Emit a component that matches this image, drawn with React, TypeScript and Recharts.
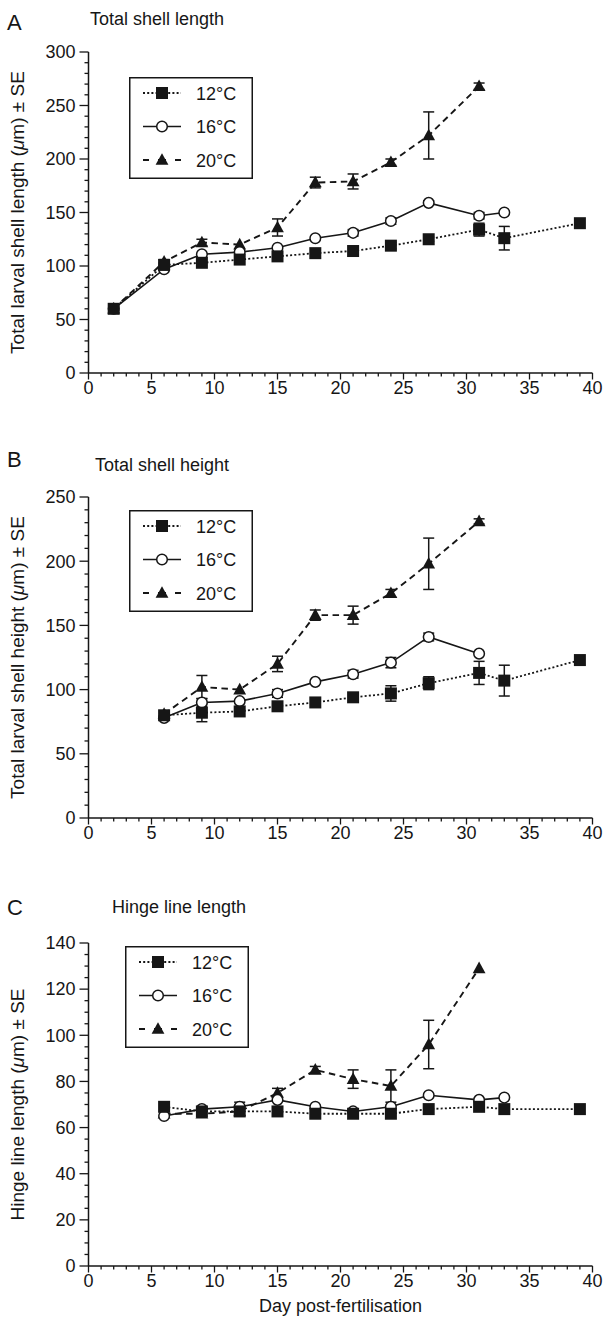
import React from 'react';
import { LineChart, Line, XAxis, YAxis, ErrorBar, Legend } from 'recharts';

const FONT = '"Liberation Sans", Arial, Helvetica, sans-serif';
const INK = '#161616';

// ---------- categories / tick labels ----------
const seriesNames = ['12°C', '16°C', '20°C'];
const dayTickLabels = [0, 5, 10, 15, 20, 25, 30, 35, 40];
const dayMinorStep = 1;
const yTicksA = [0, 50, 100, 150, 200, 250, 300];
const yMinorA = 10;
const yTicksB = [0, 50, 100, 150, 200, 250];
const yMinorB = 10;
const yTicksC = [0, 20, 40, 60, 80, 100, 120, 140];
const yMinorC = 5;

// ---------- Panel A: total shell length ----------
const daysA12 = [2, 6, 9, 12, 15, 18, 21, 24, 27, 31, 33, 39];
const lenA12 = [60, 101, 103, 106, 109, 112, 114, 119, 125, 134, 126, 140];
const errA12 = [0, 2, 0, 0, 0, 0, 0, 3, 2, 6, 11, 0];
const daysA16 = [2, 6, 9, 12, 15, 18, 21, 24, 27, 31, 33];
const lenA16 = [60, 97, 111, 113, 117, 126, 131, 142, 159, 147, 150];
const errA16 = [0, 0, 0, 0, 0, 0, 3, 3, 2, 3, 0];
const daysA20 = [2, 6, 9, 12, 15, 18, 21, 24, 27, 31];
const lenA20 = [60, 104, 122, 120, 136, 178, 179, 197, 222, 268];
const errA20 = [0, 2, 3, 0, 8, 5, 7, 3, 22, 3];

// ---------- Panel B: total shell height ----------
const daysB12 = [6, 9, 12, 15, 18, 21, 24, 27, 31, 33, 39];
const htB12 = [80, 82, 83, 87, 90, 94, 97, 105, 113, 107, 123];
const errB12 = [0, 7, 0, 0, 0, 0, 6, 5, 9, 12, 0];
const daysB16 = [6, 9, 12, 15, 18, 21, 24, 27, 31];
const htB16 = [78, 90, 91, 97, 106, 112, 121, 141, 128];
const errB16 = [0, 3, 0, 3, 0, 3, 4, 3, 0];
const daysB20 = [6, 9, 12, 15, 18, 21, 24, 27, 31];
const htB20 = [81, 102, 100, 120, 158, 158, 175, 198, 231];
const errB20 = [0, 9, 0, 6, 4, 7, 3, 20, 2];

// ---------- Panel C: hinge line length ----------
const daysC12 = [6, 9, 12, 15, 18, 21, 24, 27, 31, 33, 39];
const hinC12 = [69, 67, 67, 67, 66, 66, 66, 68, 69, 68, 68];
const errC12 = [0, 0, 0, 0, 0, 0, 0, 0, 0, 0, 0];
const daysC16 = [6, 9, 12, 15, 18, 21, 24, 27, 31, 33];
const hinC16 = [65, 68, 69, 72, 69, 67, 69, 74, 72, 73];
const errC16 = [0, 0, 2, 0, 0, 0, 0, 0, 0, 0];
const daysC20 = [6, 9, 12, 15, 18, 21, 24, 27, 31];
const hinC20 = [66, 66, 67, 75, 85, 81, 78, 96, 129];
const errC20 = [0, 0, 0, 2, 1.5, 4, 7, 10.5, 0];

type Pt = { x: number; y: number; e: number };
const zip = (xs: number[], ys: number[], es: number[]): Pt[] =>
  xs.map((x, i) => ({ x, y: ys[i], e: es[i] }));

const range = (max: number, step: number) => {
  const out: number[] = [];
  for (let v = 0; v <= max + 1e-9; v += step) out.push(Math.round(v * 1000) / 1000);
  return out;
};

// ---------- markers ----------
type Kind = 'square' | 'circle' | 'triangle';
const Marker = ({ kind, cx, cy }: { kind: Kind; cx: number; cy: number }) => {
  if (kind === 'square') return <rect x={cx - 6} y={cy - 6} width={12} height={12} fill={INK} />;
  if (kind === 'circle')
    return <circle cx={cx} cy={cy} r={5.3} fill="#fff" stroke={INK} strokeWidth={1.5} />;
  return (
    <polygon
      points={`${cx},${cy - 6.8} ${cx - 6.4},${cy + 4.8} ${cx + 6.4},${cy + 4.8}`}
      fill={INK}
    />
  );
};

const STYLE: Record<string, { kind: Kind; dash?: string; width: number }> = {
  '12°C': { kind: 'square', dash: '2 2.2', width: 1.8 },
  '16°C': { kind: 'circle', width: 1.6 },
  '20°C': { kind: 'triangle', dash: '6.5 4.5', width: 1.9 },
};

const makeDot = (kind: Kind) => (p: any) =>
  p.cx == null || p.cy == null ? (
    <g key={`n${p.index}`} />
  ) : (
    <Marker key={`m${p.index}`} kind={kind} cx={p.cx} cy={p.cy} />
  );

// ---------- ticks ----------
const isMajor = (v: number, majors: number[]) => majors.some((m) => Math.abs(m - v) < 1e-6);

const makeYTick = (majors: number[]) => (props: any) => {
  const { x, y, payload } = props;
  const v = payload.value;
  const maj = isMajor(v, majors);
  const len = maj ? 9 : 4;
  return (
    <g>
      <line x1={x - len} x2={x} y1={y} y2={y} stroke={INK} strokeWidth={1.3} />
      {maj && (
        <text x={x - 13} y={y + 6.3} textAnchor="end" fontSize={18} fontFamily={FONT} fill={INK}>
          {v}
        </text>
      )}
    </g>
  );
};

const makeXTick = (majors: number[]) => (props: any) => {
  const { x, y, payload } = props;
  const v = payload.value;
  const maj = isMajor(v, majors);
  const len = maj ? 6.5 : 3.5;
  return (
    <g>
      <line x1={x} x2={x} y1={y} y2={y + len} stroke={INK} strokeWidth={1.3} />
      {maj && (
        <text x={x} y={y + 20.5} textAnchor="middle" fontSize={18} fontFamily={FONT} fill={INK}>
          {v}
        </text>
      )}
    </g>
  );
};

// ---------- legend ----------
const LegendBox = (props: any) => {
  const payload: any[] = props.payload || [];
  const items = [...payload].sort((a, b) => String(a.value).localeCompare(String(b.value)));
  return (
    <svg width={124} height={102} style={{ display: 'block', overflow: 'visible' }}>
      <rect x={0.75} y={0.75} width={122.5} height={100.5} fill="#fff" stroke={INK} strokeWidth={1.5} />
      {items.map((it, i) => {
        const st = STYLE[it.value];
        const cy = 16 + i * 33.5;
        return (
          <g key={String(it.value)}>
            <line
              x1={14}
              x2={52}
              y1={cy}
              y2={cy}
              stroke={INK}
              strokeWidth={st.width}
              strokeDasharray={st.kind === 'triangle' ? '6 9 8 9 6' : st.dash}
            />
            <Marker kind={st.kind} cx={33} cy={cy} />
            <text x={67} y={cy + 6.5} fontSize={18} fontFamily={FONT} fill={INK}>
              {it.value}
            </text>
          </g>
        );
      })}
    </svg>
  );
};

// ---------- panel ----------
type PanelProps = {
  top: number;
  height: number;
  marginTop: number;
  marginBottom: number;
  yMax: number;
  yMajors: number[];
  yMinor: number;
  yLabel: string;
  letter: string;
  title: string;
  titleX: number;
  letterBase: number;
  titleBase: number;
  legendLeft: number;
  legendTop: number;
  s12: Pt[];
  s16: Pt[];
  s20: Pt[];
  xTitle?: string;
};

const Panel = (p: PanelProps) => {
  const yTicks = range(p.yMax, p.yMinor);
  const xTicks = range(40, dayMinorStep);
  const series: [string, Pt[]][] = [
    [seriesNames[2], p.s20],
    [seriesNames[1], p.s16],
    [seriesNames[0], p.s12],
  ];
  return (
    <div style={{ position: 'absolute', left: 0, top: p.top, width: 604, height: p.height }}>
      <svg
        width={604}
        height={60}
        style={{ position: 'absolute', left: 0, top: 0, pointerEvents: 'none', overflow: 'visible' }}
      >
        <text x={7} y={p.letterBase} fontSize={22} fontFamily={FONT} fill={INK}>
          {p.letter}
        </text>
        <text x={p.titleX} y={p.titleBase} fontSize={18} fontFamily={FONT} fill={INK}>
          {p.title}
        </text>
      </svg>
      <LineChart
        width={604}
        height={p.height}
        margin={{ top: p.marginTop, right: 11.5, bottom: p.marginBottom, left: 0.5 }}
      >
        <XAxis
          dataKey="x"
          type="number"
          domain={[0, 40]}
          ticks={xTicks}
          interval={0}
          tickLine={false}
          tickSize={0}
          tickMargin={0}
          height={30}
          axisLine={{ stroke: INK, strokeWidth: 1.5 }}
          tick={makeXTick(dayTickLabels)}
          label={
            p.xTitle
              ? (lp: any) => {
                  const vb = lp.viewBox || {};
                  return (
                    <text
                      x={vb.x + vb.width / 2}
                      y={vb.y + 46}
                      textAnchor="middle"
                      fontSize={18}
                      fontFamily={FONT}
                      fill={INK}
                    >
                      {p.xTitle}
                    </text>
                  );
                }
              : undefined
          }
        />
        <YAxis
          type="number"
          domain={[0, p.yMax]}
          ticks={yTicks}
          interval={0}
          tickLine={false}
          tickSize={0}
          tickMargin={0}
          width={88}
          axisLine={{ stroke: INK, strokeWidth: 1.5 }}
          tick={makeYTick(p.yMajors)}
          label={(lp: any) => {
            const vb = lp.viewBox || {};
            const cy = vb.y + vb.height / 2;
            return (
              <text
                transform={`translate(24, ${cy}) rotate(-90)`}
                textAnchor="middle"
                fontSize={19}
                fontFamily={FONT}
                fill={INK}
              >
                {p.yLabel} (<tspan fontStyle="italic">μ</tspan>m) ± SE
              </text>
            );
          }}
        />
        <Legend
          verticalAlign="middle"
          align="center"
          layout="horizontal"
          content={LegendBox}
          wrapperStyle={{ left: p.legendLeft, top: p.legendTop, width: 124, height: 102 }}
        />
        {series.map(([name, data]) => {
          const st = STYLE[name];
          return (
            <Line
              key={name}
              name={name}
              data={data}
              dataKey="y"
              type="linear"
              stroke={INK}
              strokeWidth={st.width}
              strokeDasharray={st.dash}
              dot={makeDot(st.kind)}
              activeDot={false}
              isAnimationActive={false}
            >
              <ErrorBar dataKey="e" width={5.5} strokeWidth={1.5} stroke={INK} direction="y" />
            </Line>
          );
        })}
      </LineChart>
    </div>
  );
};

export default function App() {
  return (
    <div
      style={{
        position: 'absolute',
        left: 0,
        top: 0,
        width: 604,
        height: 1320,
        background: '#fff',
        fontFamily: FONT,
      }}
    >
      <Panel
        top={0}
        height={420}
        marginTop={52}
        marginBottom={17}
        yMax={300}
        yMajors={yTicksA}
        yMinor={yMinorA}
        yLabel="Total larval shell length"
        letter="A"
        title="Total shell length"
        titleX={90}
        letterBase={30}
        titleBase={25}
        legendLeft={129}
        legendTop={77}
        s12={zip(daysA12, lenA12, errA12)}
        s16={zip(daysA16, lenA16, errA16)}
        s20={zip(daysA20, lenA20, errA20)}
      />
      <Panel
        top={440}
        height={420}
        marginTop={57}
        marginBottom={12}
        yMax={250}
        yMajors={yTicksB}
        yMinor={yMinorB}
        yLabel="Total larval shell height"
        letter="B"
        title="Total shell height"
        titleX={95}
        letterBase={27}
        titleBase={31}
        legendLeft={129}
        legendTop={70}
        s12={zip(daysB12, htB12, errB12)}
        s16={zip(daysB16, htB16, errB16)}
        s20={zip(daysB20, htB20, errB20)}
      />
      <Panel
        top={890}
        height={430}
        marginTop={53}
        marginBottom={24}
        yMax={140}
        yMajors={yTicksC}
        yMinor={yMinorC}
        yLabel="Hinge line length"
        letter="C"
        title="Hinge line length"
        titleX={112}
        letterBase={25}
        titleBase={23}
        legendLeft={125}
        legendTop={56}
        s12={zip(daysC12, hinC12, errC12)}
        s16={zip(daysC16, hinC16, errC16)}
        s20={zip(daysC20, hinC20, errC20)}
        xTitle="Day post-fertilisation"
      />
    </div>
  );
}
